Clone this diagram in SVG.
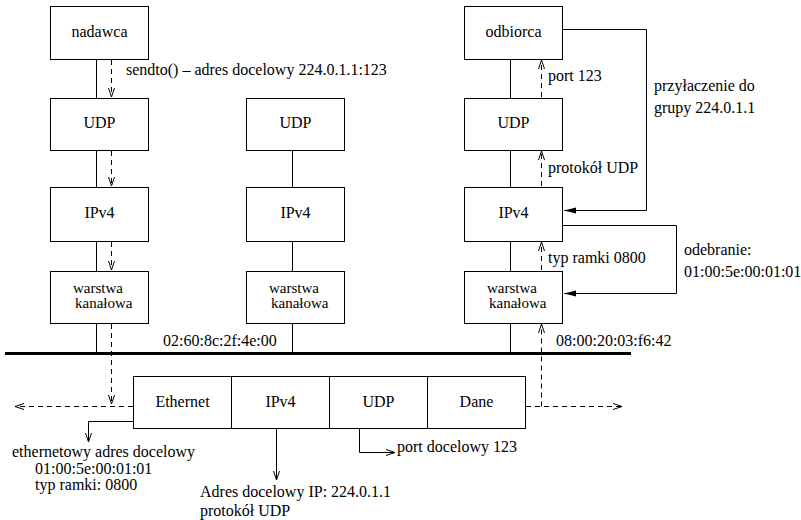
<svg xmlns="http://www.w3.org/2000/svg" width="801" height="520" viewBox="0 0 801 520" font-family="'Liberation Serif', Tinos, 'Times New Roman', serif">
<style>
text{font-family:'Liberation Serif',Tinos,'Times New Roman',serif;font-size:16px;fill:#000}
.c{text-anchor:middle}
.s15{font-size:15px}
.box{fill:#fff;stroke:#000;stroke-width:1}
.ln{fill:none;stroke:#000;stroke-width:1}
.dash{fill:none;stroke:#000;stroke-width:1;stroke-dasharray:5,4}
.bus{stroke:#000;stroke-width:3}
</style>
<defs>
<marker id="v" markerUnits="userSpaceOnUse" markerWidth="12" markerHeight="10" refX="9" refY="4" orient="auto" overflow="visible">
<path d="M0,1 L9,4 L0,7" fill="none" stroke="#000" stroke-width="1" stroke-dasharray="none"/>
</marker>
<marker id="f" markerUnits="userSpaceOnUse" markerWidth="14" markerHeight="8" refX="12" refY="4" orient="auto" overflow="visible">
<path d="M0,1 L12,4 L0,7 z" fill="#000" stroke="none"/>
</marker>
</defs>

<g id="connectors">
<line class="bus" x1="5" y1="353.5" x2="631" y2="353.5"/>
<path class="ln" d="M96.5,59 V98 M96.5,150 V187 M96.5,241 V271 M96.5,323 V352"/>
<path class="ln" d="M292.5,150 V187 M292.5,241 V271 M292.5,323 V352"/>
<path class="ln" d="M510.5,59 V98 M510.5,150 V187 M510.5,241 V271 M510.5,323 V352"/>
<path class="dash" d="M111.5,60 V97" marker-end="url(#v)"/>
<path class="dash" d="M111.5,151 V186" marker-end="url(#v)"/>
<path class="dash" d="M111.5,242 V270" marker-end="url(#v)"/>
<path class="dash" d="M111.5,324 V404" marker-end="url(#v)"/>
<path class="dash" d="M133,406.5 H15" marker-end="url(#v)"/>
<path class="dash" d="M541.5,97 V60" marker-end="url(#v)"/>
<path class="dash" d="M541.5,186 V151" marker-end="url(#v)"/>
<path class="dash" d="M541.5,270 V242" marker-end="url(#v)"/>
<path class="dash" d="M541.5,406.5 V324" marker-end="url(#v)"/>
<path class="dash" d="M526,406.5 H622" marker-end="url(#v)"/>
<path class="ln" d="M563,29.5 H646.5 V210.5 H564" marker-end="url(#f)"/>
<path class="ln" d="M563,225.5 H676.5 V293.5 H564" marker-end="url(#f)"/>
<path class="ln" d="M133,421.5 H88.5 V442" marker-end="url(#v)"/>
<path class="ln" d="M276.5,429 V480" marker-end="url(#v)"/>
<path class="ln" d="M359.5,429 V452.5 H395" marker-end="url(#v)"/>
</g>

<g id="nadawca"><rect class="box" x="50.5" y="6.5" width="98" height="53"/><text class="c" x="99.5" y="37">nadawca</text></g>
<g id="udp-left"><rect class="box" x="50.5" y="98.5" width="98" height="52"/><text class="c" x="99.5" y="128">UDP</text></g>
<g id="ipv4-left"><rect class="box" x="50.5" y="187.5" width="98" height="54"/><text class="c" x="99.5" y="218">IPv4</text></g>
<g id="link-left"><rect class="box" x="50.5" y="271.5" width="98" height="52"/><text class="s15" x="73" y="293">warstwa</text><text class="s15" x="75" y="308">kanałowa</text></g>

<g id="udp-mid"><rect class="box" x="246.5" y="98.5" width="98" height="52"/><text class="c" x="295.5" y="128">UDP</text></g>
<g id="ipv4-mid"><rect class="box" x="246.5" y="187.5" width="98" height="54"/><text class="c" x="295.5" y="218">IPv4</text></g>
<g id="link-mid"><rect class="box" x="246.5" y="271.5" width="98" height="52"/><text class="s15" x="269" y="293">warstwa</text><text class="s15" x="271" y="308">kanałowa</text></g>

<g id="odbiorca"><rect class="box" x="464.5" y="6.5" width="98" height="53"/><text class="c" x="513.5" y="37">odbiorca</text></g>
<g id="udp-right"><rect class="box" x="464.5" y="98.5" width="98" height="52"/><text class="c" x="513.5" y="128">UDP</text></g>
<g id="ipv4-right"><rect class="box" x="464.5" y="187.5" width="98" height="54"/><text class="c" x="513.5" y="218">IPv4</text></g>
<g id="link-right"><rect class="box" x="464.5" y="271.5" width="98" height="52"/><text class="s15" x="487" y="293">warstwa</text><text class="s15" x="489" y="308">kanałowa</text></g>

<g id="frame">
<rect class="box" x="133.5" y="376.5" width="98" height="52"/><text class="c" x="182.5" y="407">Ethernet</text>
<rect class="box" x="231.5" y="376.5" width="98" height="52"/><text class="c" x="280.5" y="407">IPv4</text>
<rect class="box" x="329.5" y="376.5" width="98" height="52"/><text class="c" x="378.5" y="407">UDP</text>
<rect class="box" x="427.5" y="376.5" width="98" height="52"/><text class="c" x="476.5" y="407">Dane</text>
</g>

<g id="labels">
<text x="126" y="75">sendto() – adres docelowy 224.0.1.1:123</text>
<text x="548" y="81">port 123</text>
<text x="548" y="173">protokół UDP</text>
<text x="548" y="263">typ ramki 0800</text>
<text x="654" y="91">przyłaczenie do</text>
<text x="654" y="113">grupy 224.0.1.1</text>
<text x="684" y="255">odebranie:</text>
<text x="684" y="277">01:00:5e:00:01:01</text>
<text x="163" y="346">02:60:8c:2f:4e:00</text>
<text x="556" y="346">08:00:20:03:f6:42</text>
<text x="12" y="457">ethernetowy adres docelowy</text>
<text x="35" y="474">01:00:5e:00:01:01</text>
<text x="35" y="490">typ ramki: 0800</text>
<text x="200" y="497">Adres docelowy IP: 224.0.1.1</text>
<text x="200" y="516">protokół UDP</text>
<text x="397" y="452">port docelowy 123</text>
</g>
</svg>
